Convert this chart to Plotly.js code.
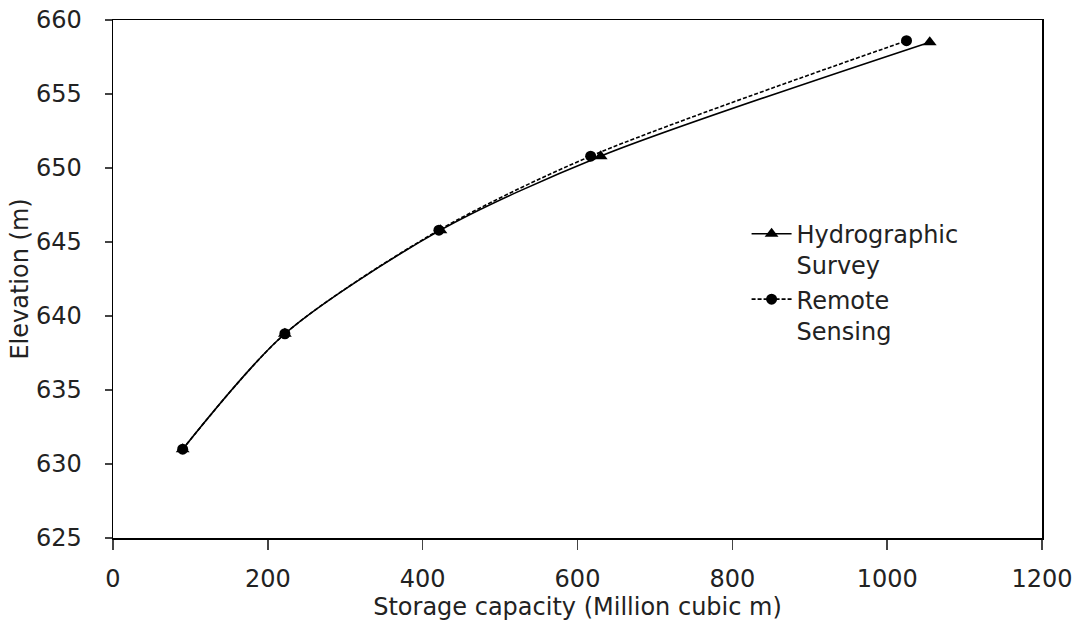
<!DOCTYPE html>
<html>
<head>
<meta charset="utf-8">
<script src="https://cdn.plot.ly/plotly-3.0.1.min.js"></script>
<style>html,body{margin:0;padding:0;background:#fff;}#chart{width:1076px;height:621px;}</style>
</head>
<body>
<div id="chart"></div>
<script>
const hydroCapacity = [90, 222, 423, 630, 1055];
const hydroElevation = [631.0, 638.8, 645.8, 650.8, 658.5];
const remoteCapacity = [90, 222, 421, 617, 1025];
const remoteElevation = [631.0, 638.8, 645.8, 650.8, 658.6];
const xTicks = [0, 200, 400, 600, 800, 1000, 1200];
const yTicks = [625, 630, 635, 640, 645, 650, 655, 660];

const traces = [
  {
    x: hydroCapacity, y: hydroElevation, name: 'Hydrographic<br>Survey',
    mode: 'lines+markers', type: 'scatter',
    line: {color: '#000', width: 1.6, shape: 'spline', smoothing: 0.8},
    marker: {symbol: 'triangle-up', size: 12, color: '#000'}
  },
  {
    x: remoteCapacity, y: remoteElevation, name: 'Remote<br>Sensing',
    mode: 'lines+markers', type: 'scatter',
    line: {color: '#000', width: 1.6, dash: '4px,2px', shape: 'spline', smoothing: 0.8},
    marker: {symbol: 'circle', size: 11, color: '#000'}
  }
];

const font = {family: 'DejaVu Sans, Liberation Sans, Arial, sans-serif', size: 24, color: '#222'};

const layout = {
  width: 1076, height: 621,
  margin: {l: 113, r: 34, t: 20, b: 83},
  paper_bgcolor: '#fff', plot_bgcolor: '#fff',
  font: font,
  showlegend: true,
  legend: {x: 0.682, y: 0.63, xanchor: 'left', yanchor: 'top', bgcolor: 'rgba(0,0,0,0)', valign: 'top',
           font: font, itemwidth: 40, tracegroupgap: 4},
  xaxis: {
    range: [0, 1200], tickvals: xTicks, ticktext: xTicks.map(String),
    showgrid: false, zeroline: false, showline: true, linecolor: '#000', linewidth: 1.5, mirror: true,
    ticks: 'outside', ticklen: 10, tickcolor: '#444', tickwidth: 1.5,
    tickfont: font, ticklabelstandoff: 9,
    title: {text: 'Storage capacity (Million cubic m)', font: font, standoff: 0}
  },
  yaxis: {
    range: [625, 660], tickvals: yTicks, ticktext: yTicks.map(String),
    showgrid: false, zeroline: false, showline: true, linecolor: '#000', linewidth: 1.5, mirror: true,
    ticks: 'outside', ticklen: 7, tickcolor: '#444', tickwidth: 1.5,
    tickfont: font, ticklabelstandoff: 18,
    title: {text: 'Elevation (m)', font: font, standoff: 0}
  }
};

Plotly.newPlot('chart', traces, layout, {displayModeBar: false, staticPlot: true});
</script>
</body>
</html>
